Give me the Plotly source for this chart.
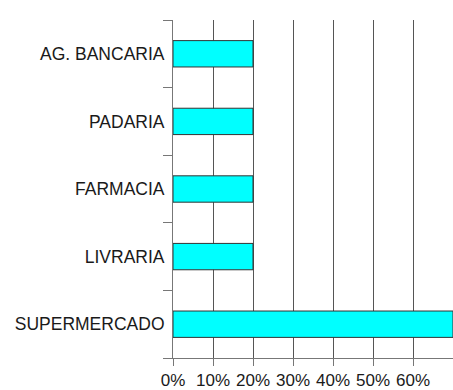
import plotly.graph_objects as go

# Share of respondents per establishment type (bottom to top on the chart)
categories = ["SUPERMERCADO", "LIVRARIA", "FARMACIA", "PADARIA", "AG. BANCARIA"]
shares = [70, 20, 20, 20, 20]
tick_values = [0, 10, 20, 30, 40, 50, 60]
tick_labels = ["0%", "10%", "20%", "30%", "40%", "50%", "60%"]

font_family = "Liberation Sans, Arial, sans-serif"

fig = go.Figure(
    go.Bar(
        y=categories,
        x=shares,
        orientation="h",
        width=0.39,
        marker=dict(color="#00FFFF", line=dict(color="#333333", width=1)),
        hoverinfo="x+y",
    )
)

fig.update_layout(
    width=453,
    height=390,
    margin=dict(l=173, r=0, t=20, b=32),
    paper_bgcolor="white",
    plot_bgcolor="white",
    showlegend=False,
    font=dict(family=font_family, size=17.5, color="#1a1a1a"),
)

fig.update_xaxes(
    range=[0, 70],
    tickvals=tick_values,
    ticktext=tick_labels,
    showgrid=True,
    gridcolor="#555555",
    gridwidth=1,
    zeroline=False,
    showline=True,
    linecolor="#777777",
    linewidth=1,
    ticks="outside",
    ticklen=7,
    tickcolor="#777777",
    tickfont=dict(size=17),
    layer="below traces",
)

fig.update_yaxes(
    showgrid=False,
    showline=True,
    linecolor="#777777",
    linewidth=1,
    ticks="outside",
    tickson="boundaries",
    ticklen=9,
    tickcolor="#777777",
    tickfont=dict(size=17.5),
    ticklabelstandoff=4,
)

fig.write_html("out.html")
